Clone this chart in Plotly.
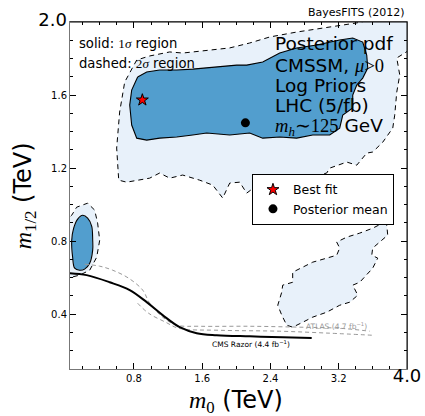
import plotly.graph_objects as go

# ---------------- data (m0, m1/2 in TeV) ----------------
# 2-sigma (dashed) main region; first/last points lie outside the axes (clipped)
sig2_main_m0 = [4.03, 3.880, 3.915, 3.880, 3.856, 3.833, 3.716, 3.598, 3.528, 3.481, 3.411, 3.294,
                3.094, 3.059, 2.743, 2.391, 2.215, 2.121, 2.039, 1.922, 1.840, 1.723, 1.570, 1.371,
                1.219, 1.101, 0.984, 0.714, 0.621, 0.597, 0.632, 0.691, 0.832, 0.984, 1.219, 1.371,
                1.687, 1.922, 2.156, 2.391, 2.707, 3.094, 3.411, 3.622, 4.03]
sig2_main_m12 = [1.847, 1.803, 1.710, 1.616, 1.490, 1.419, 1.342, 1.288, 1.282, 1.255, 1.216, 1.233,
                 1.200, 1.173, 1.134, 1.118, 1.096, 1.063, 1.123, 1.118, 1.036, 1.107, 1.134, 1.162,
                 1.145, 1.173, 1.145, 1.123, 1.134, 1.310, 1.507, 1.671, 1.792, 1.814, 1.836, 1.830,
                 1.847, 1.858, 1.885, 1.918, 1.945, 1.973, 1.995, 2.016, 2.016]

# 1-sigma (solid) main region
sig1_main_m0 = [0.843, 0.949, 1.101, 1.301, 1.488, 1.652, 1.805, 2.004, 2.121, 2.309, 2.508, 2.707,
                2.942, 3.094, 3.211, 3.364, 3.481, 3.528, 3.540, 3.481, 3.411, 3.364, 3.364, 3.247,
                3.211, 3.094, 2.895, 2.707, 2.508, 2.309, 2.156, 1.922, 1.652, 1.488, 1.301, 1.101,
                0.949, 0.832, 0.773, 0.750, 0.773]
sig1_main_m12 = [1.699, 1.726, 1.737, 1.737, 1.742, 1.748, 1.753, 1.764, 1.764, 1.781, 1.830, 1.858,
                 1.874, 1.890, 1.901, 1.912, 1.890, 1.819, 1.748, 1.693, 1.655, 1.600, 1.529, 1.490,
                 1.419, 1.381, 1.381, 1.364, 1.370, 1.364, 1.392, 1.381, 1.392, 1.381, 1.370, 1.364,
                 1.353, 1.364, 1.436, 1.545, 1.627]

# low-m0 island
sig2_left_m0 = [-0.02, 0.070, 0.128, 0.257, 0.339, 0.374, 0.398, 0.363, 0.281, 0.163, 0.070, -0.02]
sig2_left_m12 = [0.904, 0.942, 0.986, 1.008, 0.970, 0.899, 0.805, 0.712, 0.641, 0.614, 0.603, 0.597]
sig1_left_m0 = [0.199, 0.257, 0.304, 0.316, 0.316, 0.281, 0.222, 0.163, 0.105, 0.081, 0.070, 0.093, 0.140]
sig1_left_m12 = [0.942, 0.926, 0.882, 0.805, 0.751, 0.679, 0.647, 0.641, 0.652, 0.712, 0.805, 0.871, 0.921]

# high-m0 2-sigma island
sig2_isl_m0 = [3.716, 3.763, 3.774, 3.680, 3.598, 3.587, 3.657, 3.598, 3.528, 3.446, 3.364, 3.423,
               3.329, 3.211, 3.059, 2.895, 2.778, 2.660, 2.590, 2.532, 2.485, 2.532, 2.543, 2.660,
               2.660, 2.778, 2.895, 3.059, 3.176, 3.211, 3.176, 3.294, 3.446, 3.598]
sig2_isl_m12 = [0.899, 0.888, 0.833, 0.795, 0.762, 0.723, 0.707, 0.652, 0.614, 0.575, 0.559, 0.504,
                0.466, 0.449, 0.411, 0.384, 0.356, 0.329, 0.340, 0.395, 0.449, 0.521, 0.559, 0.575,
                0.630, 0.658, 0.685, 0.707, 0.723, 0.762, 0.795, 0.822, 0.844, 0.871]

# exclusion limits
cms_m0 = [0.046, 0.245, 0.515, 0.750, 0.949, 1.136, 1.336, 1.535, 1.770, 2.156, 2.543, 2.883]
cms_m12 = [0.625, 0.614, 0.575, 0.532, 0.466, 0.395, 0.329, 0.296, 0.285, 0.279, 0.274, 0.270]
atlas_a_m0 = [0.222, 0.398, 0.550, 0.738, 0.902, 0.984, 1.136, 1.301, 1.570, 2.156, 2.743, 3.211, 3.563]
atlas_a_m12 = [0.674, 0.663, 0.641, 0.597, 0.532, 0.460, 0.384, 0.340, 0.334, 0.334, 0.329, 0.323, 0.307]
atlas_b_m0 = [0.843, 0.972, 1.172, 1.324, 1.805, 2.508, 3.094, 3.587]
atlas_b_m12 = [0.460, 0.405, 0.356, 0.323, 0.312, 0.307, 0.296, 0.285]

best_fit = (0.898, 1.573)
post_mean = (2.106, 1.448)

x_tickvals = [0.8, 1.6, 2.4, 3.2, 4.0]
x_ticktext = ["0.8", "1.6", "2.4", "3.2", "4.0"]
y_tickvals = [0.4, 0.8, 1.2, 1.6, 2.0]
y_ticktext = ["0.4", "0.8", "1.2", "1.6", "2.0"]

# ---------------- styling ----------------
DARK = "rgb(82,158,206)"
LIGHT = "rgb(232,241,250)"
FONT = "DejaVu Sans"


def mi(s):
    return '<span style="font-family:Liberation Serif;font-style:italic">%s</span>' % s


def mr(s):
    return '<span style="font-family:Liberation Serif">%s</span>' % s


def closed(a):
    return list(a) + [a[0]]


fig = go.Figure()

# fills
for xs, ys, col in [(sig2_main_m0, sig2_main_m12, LIGHT), (sig2_left_m0, sig2_left_m12, LIGHT),
                    (sig2_isl_m0, sig2_isl_m12, LIGHT), (sig1_main_m0, sig1_main_m12, DARK),
                    (sig1_left_m0, sig1_left_m12, DARK)]:
    fig.add_trace(go.Scatter(x=xs, y=ys, mode="lines", fill="toself", fillcolor=col,
                             line=dict(width=0, color=col), hoverinfo="skip", showlegend=False))

# boundaries
dash2 = "5px,4px"
fig.add_trace(go.Scatter(x=sig2_main_m0, y=sig2_main_m12, mode="lines",
                         line=dict(color="black", width=1, dash=dash2), showlegend=False))
fig.add_trace(go.Scatter(x=sig2_left_m0, y=sig2_left_m12, mode="lines",
                         line=dict(color="black", width=1, dash=dash2), showlegend=False))
fig.add_trace(go.Scatter(x=closed(sig2_isl_m0), y=closed(sig2_isl_m12), mode="lines",
                         line=dict(color="black", width=1, dash=dash2), showlegend=False))
fig.add_trace(go.Scatter(x=closed(sig1_main_m0), y=closed(sig1_main_m12), mode="lines",
                         line=dict(color="black", width=1.1), showlegend=False))
fig.add_trace(go.Scatter(x=closed(sig1_left_m0), y=closed(sig1_left_m12), mode="lines",
                         line=dict(color="black", width=1.1, shape="spline"), showlegend=False))

# exclusion lines
fig.add_trace(go.Scatter(x=atlas_a_m0, y=atlas_a_m12, mode="lines",
                         line=dict(color="#999999", width=1, dash="4px,3px", shape="spline"),
                         showlegend=False))
fig.add_trace(go.Scatter(x=atlas_b_m0, y=atlas_b_m12, mode="lines",
                         line=dict(color="#999999", width=1, dash="4px,3px", shape="spline"),
                         showlegend=False))
fig.add_trace(go.Scatter(x=cms_m0, y=cms_m12, mode="lines",
                         line=dict(color="black", width=2, shape="spline"), showlegend=False))

# points
fig.add_trace(go.Scatter(x=[best_fit[0]], y=[best_fit[1]], mode="markers", name="Best fit",
                         marker=dict(symbol="star", size=9, color="red",
                                     line=dict(color="black", width=1))))
fig.add_trace(go.Scatter(x=[post_mean[0]], y=[post_mean[1]], mode="markers", name="Posterior mean",
                         marker=dict(symbol="circle", size=9, color="black")))

big = '<span style="font-size:18px">%s</span>'
x_ticktext_f = x_ticktext[:-1] + [big % x_ticktext[-1]]
y_ticktext_f = y_ticktext[:-1] + [big % y_ticktext[-1]]

axis_common = dict(showgrid=False, zeroline=False, showline=True, linecolor="#777777", linewidth=1,
                   mirror="ticks", ticks="inside", ticklen=6, tickwidth=1, tickcolor="black",
                   tickfont=dict(size=10, family=FONT, color="black"), tickmode="array")

fig.update_layout(
    width=425, height=416,
    margin=dict(l=70, r=18, t=22, b=47, autoexpand=False),
    paper_bgcolor="white", plot_bgcolor="white",
    font=dict(family=FONT, color="black"),
    xaxis=dict(range=[0.05, 4.0], tickvals=x_tickvals, ticktext=x_ticktext_f,
               minor=dict(tickmode="linear", tick0=0, dtick=0.2, ticks="inside", ticklen=3,
                          tickcolor="black", showgrid=False), **axis_common),
    yaxis=dict(range=[0.1, 2.0], tickvals=y_tickvals, ticktext=y_ticktext_f,
               minor=dict(tickmode="linear", tick0=0, dtick=0.1, ticks="inside", ticklen=3,
                          tickcolor="black", showgrid=False), **axis_common),
    showlegend=True,
    legend=dict(x=0.54, y=0.562, xanchor="left", yanchor="top", bgcolor="white",
                bordercolor="black", borderwidth=1, font=dict(size=12.5, family=FONT),
                tracegroupgap=0, itemwidth=30),
    shapes=[
        dict(type="line", xref="paper", yref="paper", x0=0, x1=1, y0=1, y1=1,
             line=dict(color="black", width=1)),
        dict(type="line", xref="paper", yref="paper", x0=1, x1=1, y0=0, y1=1,
             line=dict(color="black", width=1)),
    ],
)

ann = []
ann.append(dict(text="BayesFITS (2012)", x=1.0, y=1.026, xref="paper", yref="paper",
                xanchor="right", yanchor="middle", showarrow=False, font=dict(size=11)))
ann.append(dict(text="solid: " + mr("1") + mi("σ") + " region", x=0.021, y=0.937, xref="paper",
                yref="paper", xanchor="left", yanchor="middle", showarrow=False,
                font=dict(size=13.2)))
ann.append(dict(text="dashed: " + mr("2") + mi("σ") + " region", x=0.021, y=0.879, xref="paper",
                yref="paper", xanchor="left", yanchor="middle", showarrow=False,
                font=dict(size=13.2)))
block = ["Posterior pdf", "CMSSM, " + mi("μ") + mr("&gt;0"), "Log Priors", "LHC (5/fb)",
         mi("m") + "<sub>" + mi("h") + "</sub>" + mr("∼125") + " GeV"]
block_y = [0.939, 0.876, 0.816, 0.758, 0.697]
for t, yy in zip(block, block_y):
    ann.append(dict(text=t, x=0.602, y=yy, xref="paper", yref="paper", xanchor="left",
                    yanchor="middle", showarrow=False, font=dict(size=18.5)))
ann.append(dict(text="ATLAS (4.7 fb<sup>−1</sup>)", x=0.792, y=0.124, xref="paper", yref="paper",
                xanchor="center", yanchor="middle", showarrow=False,
                font=dict(size=7.5, color="#999999")))
ann.append(dict(text="CMS Razor (4.4 fb<sup>−1</sup>)", x=0.537, y=0.072, xref="paper",
                yref="paper", xanchor="center", yanchor="middle", showarrow=False,
                font=dict(size=7.5, color="black")))
ann.append(dict(text=mi("m") + "<sub>" + mr("0") + "</sub> (TeV)", x=0.493, y=-0.095,
                xref="paper", yref="paper", xanchor="center", yanchor="middle", showarrow=False,
                font=dict(size=24)))
ann.append(dict(text=mi("m") + "<sub>" + mr("1/2") + "</sub> (TeV)", x=-0.134, y=0.5,
                xref="paper", yref="paper", xanchor="center", yanchor="middle", showarrow=False,
                textangle=-90, font=dict(size=24)))
fig.update_layout(annotations=ann)

fig.write_html("out.html", config={"displayModeBar": False},
               post_script="document.body.style.margin='0';")
